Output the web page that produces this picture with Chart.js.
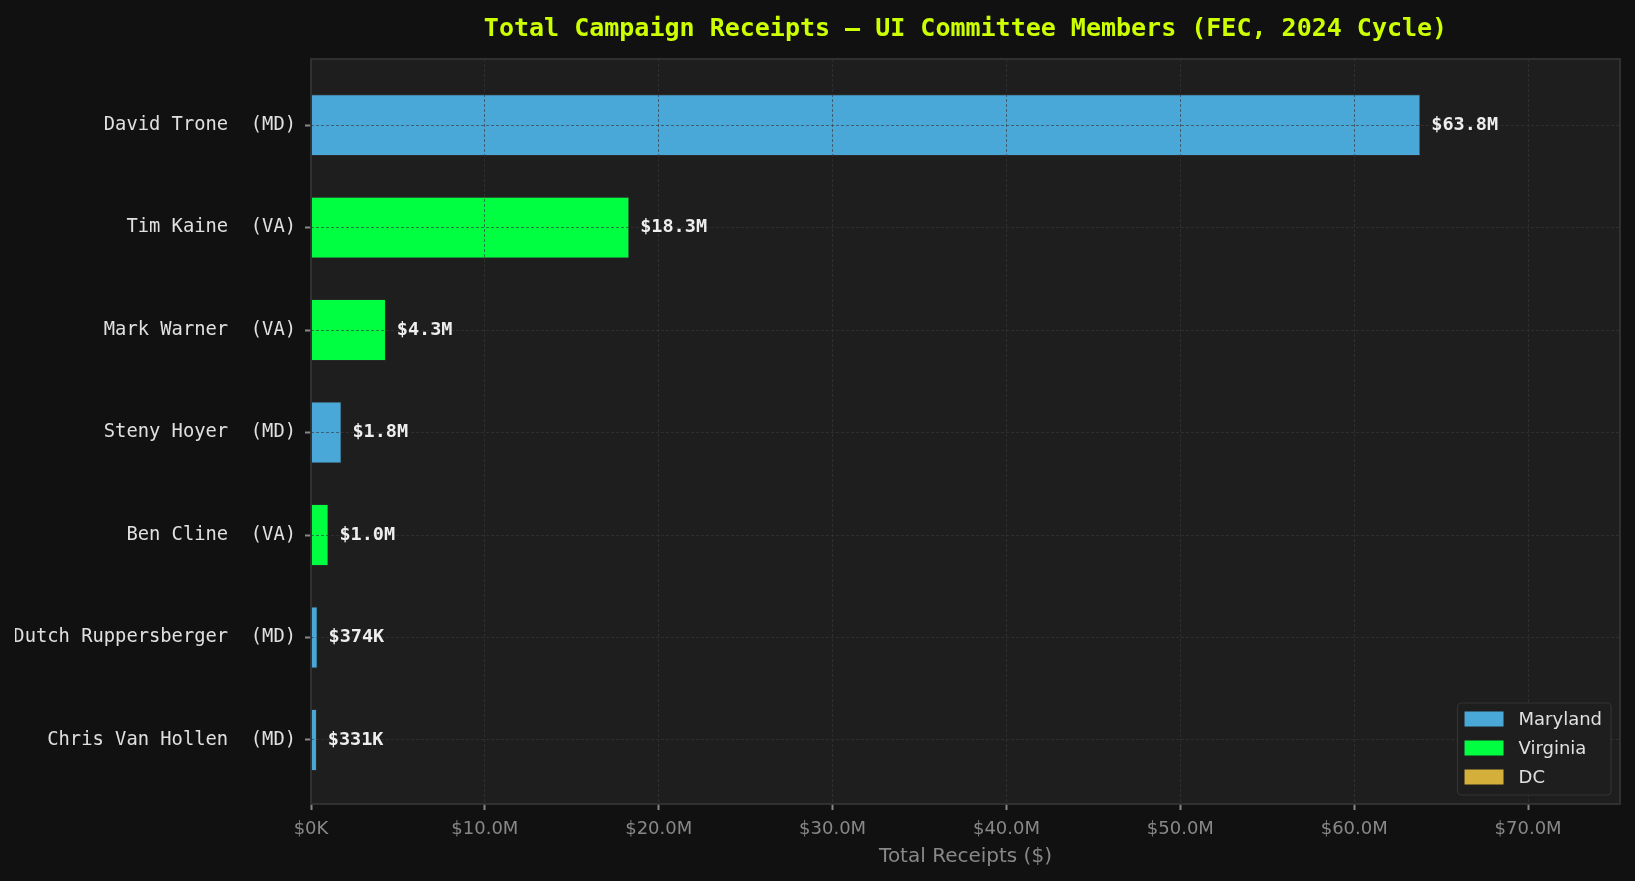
<!DOCTYPE html>
<html><head><meta charset="utf-8">
<script src="https://cdn.jsdelivr.net/npm/chart.js@4.4.1/dist/chart.umd.min.js"></script>
<style>html,body{margin:0;padding:0;background:#111111;overflow:hidden;} #wrap{width:1635px;height:881px;position:relative;}</style>
</head><body><div id="wrap"><canvas id="c" width="1635" height="881"></canvas></div>
<script>
// ---- data ----
const names = ['David Trone','Tim Kaine','Mark Warner','Steny Hoyer','Ben Cline','Dutch Ruppersberger','Chris Van Hollen'];
const stateCodes = ['MD','VA','VA','MD','VA','MD','MD'];
const receipts = [63.8e6, 18.3e6, 4.3e6, 1.75e6, 1.0e6, 374e3, 331e3];
const legendStates = ['Maryland','Virginia','DC'];
const legendCodes = ['MD','VA','DC'];
const legendColors = ['#4aa8d8','#00ff41','#d4b03a'];
const xTickValues = [0, 10e6, 20e6, 30e6, 40e6, 50e6, 60e6, 70e6];
const titleText = 'Total Campaign Receipts \u2014 UI Committee Members (FEC, 2024 Cycle)';
const xTitle = 'Total Receipts ($)';

// ---- derived ----
const fmt = v => v >= 1e6 ? '$' + (v / 1e6).toFixed(1) + 'M' : '$' + Math.round(v / 1e3) + 'K';
const labels = names.map((n, i) => n + '  (' + stateCodes[i] + ')');
const barColors = stateCodes.map(c => legendColors[legendCodes.indexOf(c)]);
const points = receipts.map((v, i) => ({ x: v, y: i }));

const gridColor = 'rgba(55,55,55,0.8)';

const bgPlugin = {
  id: 'bg',
  beforeDraw(chart) {
    const { ctx, chartArea: a, width, height } = chart;
    ctx.save();
    ctx.fillStyle = '#111111';
    ctx.fillRect(0, 0, width, height);
    ctx.fillStyle = '#1e1e1e';
    ctx.fillRect(a.left, a.top, a.right - a.left, a.bottom - a.top);
    ctx.restore();
  },
  afterDraw(chart) {
    const { ctx, chartArea: a } = chart;
    ctx.save();
    ctx.strokeStyle = '#333333';
    ctx.lineWidth = 1.8;
    ctx.strokeRect(a.left, a.top, a.right - a.left, a.bottom - a.top);
    ctx.restore();
  }
};

const valuePlugin = {
  id: 'values',
  afterDraw(chart) {
    const { ctx } = chart;
    const meta = chart.getDatasetMeta(0);
    ctx.save();
    ctx.font = 'bold 18.5px "DejaVu Sans Mono"';
    ctx.fillStyle = '#eeeeee';
    ctx.textAlign = 'left';
    ctx.textBaseline = 'middle';
    meta.data.forEach((bar, i) => {
      ctx.fillText(fmt(receipts[i]), bar.x + 11, bar.y);
    });
    ctx.restore();
  }
};

const legendPlugin = {
  id: 'boxLegend',
  afterDraw(chart) {
    const { ctx, chartArea: a } = chart;
    ctx.save();
    ctx.font = '18px "DejaVu Sans"';
    const textW = Math.max(...legendStates.map(s => ctx.measureText(s).width));
    const sw = 39, sh = 15, padL = 7, gap = 15, padR = 9, rowH = 29;
    const w = padL + sw + gap + textW + padR;
    const h = 92;
    const x = a.right - 9 - w, y = a.bottom - 9 - h;
    ctx.beginPath();
    ctx.roundRect(x, y, w, h, 4);
    ctx.fillStyle = '#1e1e1e';
    ctx.fill();
    ctx.strokeStyle = '#333333';
    ctx.lineWidth = 1.2;
    ctx.stroke();
    ctx.textBaseline = 'middle';
    ctx.textAlign = 'left';
    legendStates.forEach((s, i) => {
      const cy = y + 16 + i * rowH;
      ctx.fillStyle = legendColors[i];
      ctx.fillRect(x + padL, cy - sh / 2, sw, sh);
      ctx.fillStyle = '#e0e0e0';
      ctx.fillText(s, x + padL + sw + gap, cy + 1);
    });
    ctx.restore();
  }
};

new Chart(document.getElementById('c'), {
  type: 'bar',
  data: {
    datasets: [{
      data: points,
      backgroundColor: barColors,
      borderColor: '#333333',
      borderWidth: 0.8,
      barPercentage: 0.6,
      categoryPercentage: 1.0
    }]
  },
  options: {
    indexAxis: 'y',
    responsive: false,
    animation: false,
    devicePixelRatio: 1,
    layout: { padding: { left: 15, right: 15, top: 0, bottom: 0 } },
    plugins: {
      legend: { display: false },
      tooltip: { enabled: false },
      title: {
        display: true, text: titleText, color: '#ccff00', fullSize: false,
        font: { family: 'DejaVu Sans Mono', size: 25, weight: 'bold', lineHeight: 1.2 },
        padding: { top: 14, bottom: 15 }
      }
    },
    scales: {
      x: {
        type: 'linear', position: 'bottom', min: 0, max: Math.max(...receipts) * 1.18, offset: false,
        afterBuildTicks: s => { s.ticks = xTickValues.map(v => ({ value: v })); },
        afterFit: s => { s.height = 77; },
        ticks: { callback: v => fmt(v), color: '#888888', font: { family: 'DejaVu Sans', size: 18 }, padding: 9, maxRotation: 0, autoSkip: false },
        grid: { z: 1, offset: false, color: gridColor, lineWidth: 0.8, tickColor: '#888888', tickLength: 6, tickWidth: 2, tickBorderDash: [] },
        border: { display: false, dash: [3, 2] },
        title: { display: true, text: xTitle, color: '#888888', font: { family: 'DejaVu Sans', size: 20 }, padding: { top: 4, bottom: 12 } }
      },
      y: {
        type: 'linear', reverse: true, min: -0.645, max: 6.625, offset: false,
        afterBuildTicks: s => { s.ticks = names.map((_, i) => ({ value: i })); },
        afterFit: s => { s.width = 296; },
        ticks: { callback: v => labels[v], color: '#e0e0e0', font: { family: 'DejaVu Sans Mono', size: 18.8 }, padding: 9, autoSkip: false },
        grid: { z: 1, offset: false, color: gridColor, lineWidth: 0.8, tickColor: '#888888', tickLength: 6, tickWidth: 2, tickBorderDash: [] },
        border: { display: false, dash: [3, 2] }
      }
    }
  },
  plugins: [bgPlugin, valuePlugin, legendPlugin]
});
</script>
</body></html>
